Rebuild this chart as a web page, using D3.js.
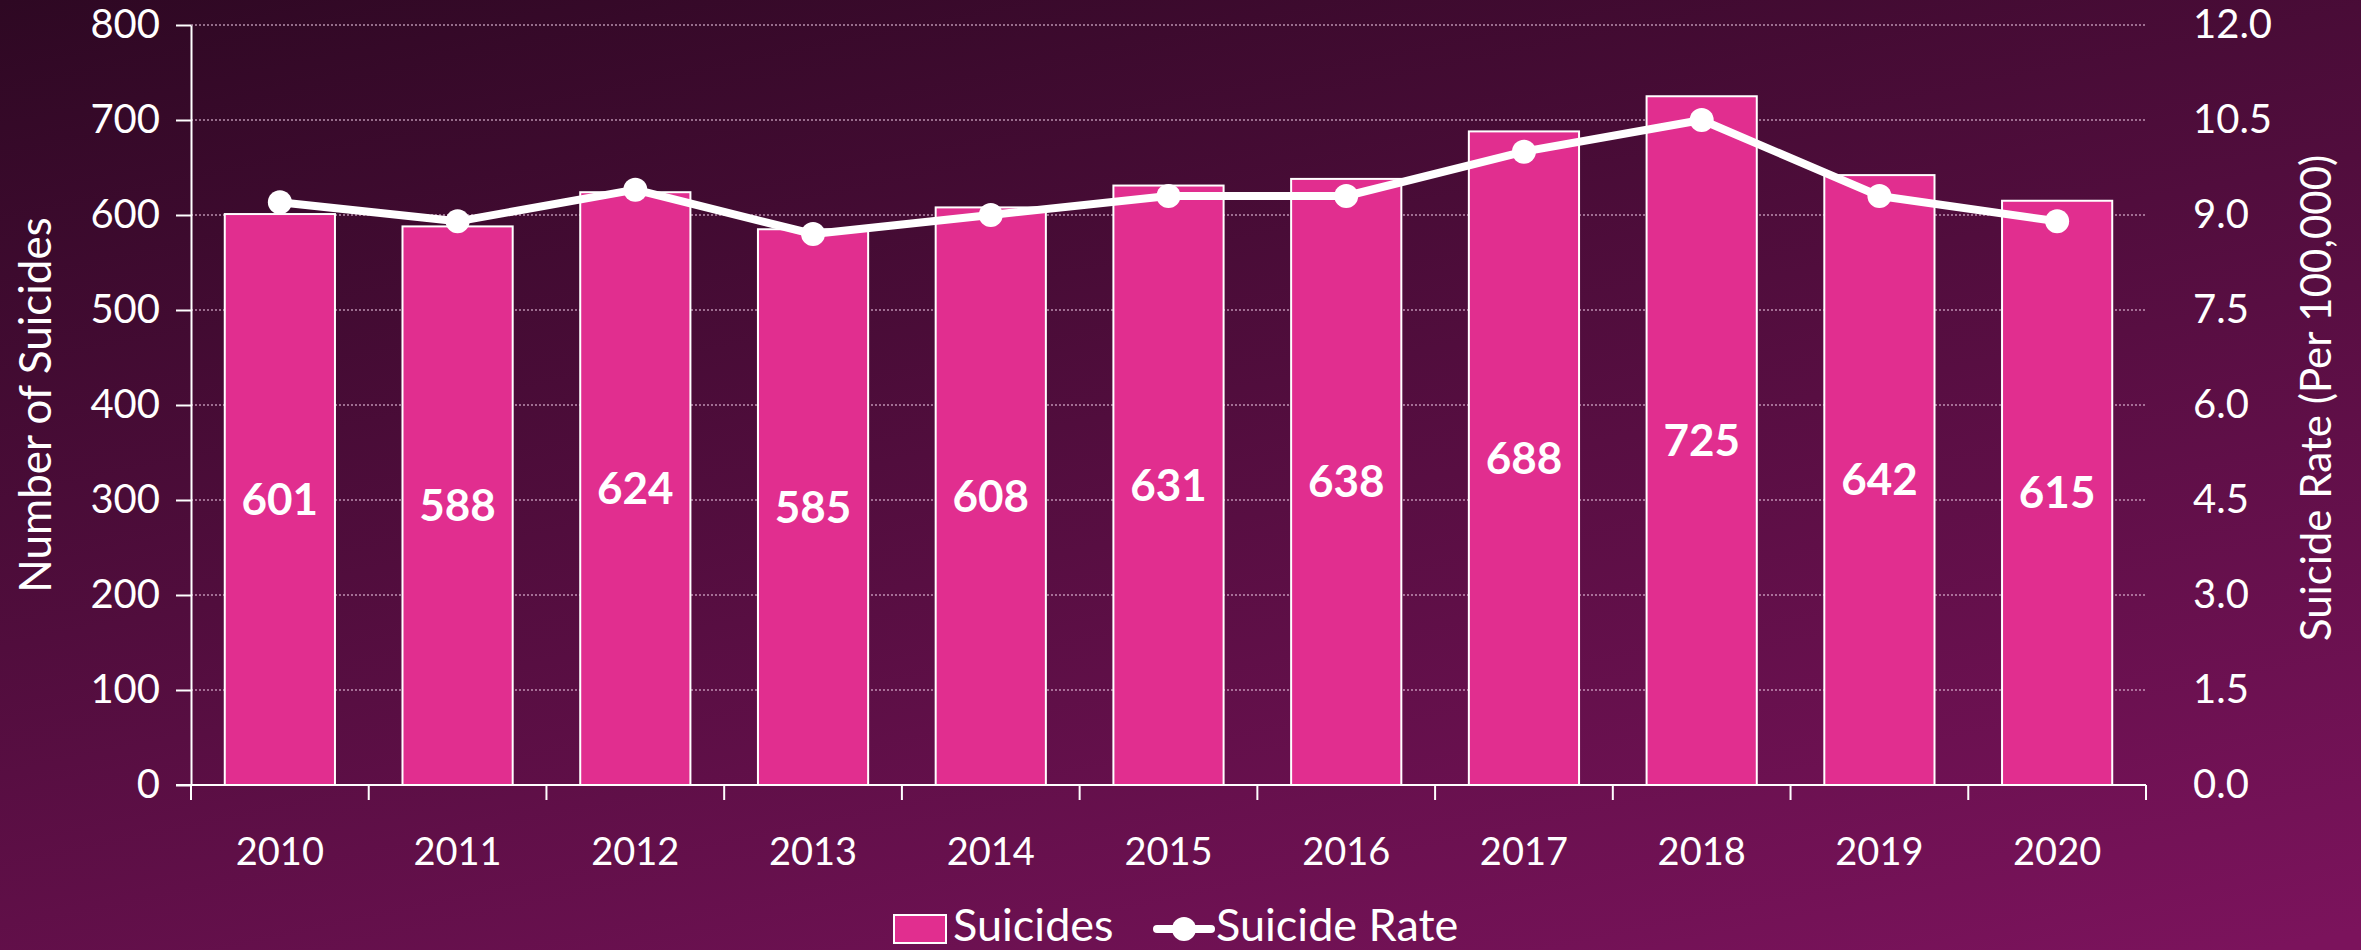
<!DOCTYPE html>
<html>
<head>
<meta charset="utf-8">
<script src="https://cdn.jsdelivr.net/npm/d3@7"></script>
<style>
  html, body { margin: 0; padding: 0; background: #300925; }
  svg { display: block; font-family: Lato, "Open Sans", sans-serif; }
</style>
</head>
<body>
<svg id="chart" width="2361" height="950"></svg>
<script>
// data
var years = ["2010", "2011", "2012", "2013", "2014", "2015", "2016", "2017", "2018", "2019", "2020"];
var suicides = [601, 588, 624, 585, 608, 631, 638, 688, 725, 642, 615];
var rates = [9.2, 8.9, 9.4, 8.7, 9.0, 9.3, 9.3, 10.0, 10.5, 9.3, 8.9];
var leftTicks = [0, 100, 200, 300, 400, 500, 600, 700, 800];
var rightTicks = [0, 1.5, 3, 4.5, 6, 7.5, 9, 10.5, 12];

var width = 2361;
var height = 950;
var margin = {top: 25, right: 215, bottom: 165, left: 191};

var svg = d3.select("#chart");

// background
var defs = svg.append("defs");
var grad = defs.append("linearGradient")
    .attr("id", "bg")
    .attr("gradientUnits", "userSpaceOnUse")
    .attr("x1", 0).attr("y1", 0)
    .attr("x2", 285).attr("y2", 1364);
grad.append("stop").attr("offset", "0%").attr("stop-color", "#2e0823");
grad.append("stop").attr("offset", "100%").attr("stop-color", "#7b135c");
svg.append("rect").attr("width", width).attr("height", height).attr("fill", "url(#bg)");

var x = d3.scaleBand()
    .domain(years)
    .range([margin.left, width - margin.right])
    .paddingInner(0.38)
    .paddingOuter(0.19);

var y = d3.scaleLinear().domain([0, 800]).range([height - margin.bottom, margin.top]);
var y2 = d3.scaleLinear().domain([0, 12]).range([height - margin.bottom, margin.top]);

// gridlines
svg.append("g")
    .selectAll("line")
    .data(leftTicks.slice(1))
    .enter()
    .append("line")
    .attr("x1", margin.left)
    .attr("x2", width - margin.right)
    .attr("y1", function(d) { return y(d); })
    .attr("y2", function(d) { return y(d); })
    .style("stroke", "rgba(235,200,225,0.7)")
    .style("stroke-width", 1.5)
    .style("stroke-dasharray", "2,2");

// bars
svg.append("g")
    .selectAll("rect")
    .data(suicides)
    .enter()
    .append("rect")
    .attr("x", function(d, i) { return x(years[i]); })
    .attr("y", function(d) { return y(d); })
    .attr("width", x.bandwidth())
    .attr("height", function(d) { return y(0) - y(d); })
    .style("fill", "#e12e8f")
    .style("stroke", "white")
    .style("stroke-width", 2);

// bar labels
svg.append("g")
    .selectAll("text")
    .data(suicides)
    .enter()
    .append("text")
    .attr("x", function(d, i) { return x(years[i]) + x.bandwidth() / 2; })
    .attr("y", function(d) { return y(d / 2); })
    .attr("dy", "0.35em")
    .attr("text-anchor", "middle")
    .style("fill", "white")
    .style("font-size", "44px")
    .style("font-weight", 700)
    .text(function(d) { return d; });

// left axis
var leftAxis = svg.append("g")
    .attr("transform", "translate(" + margin.left + ",0)")
    .call(d3.axisLeft(y).tickValues(leftTicks).tickSize(15).tickPadding(16).tickSizeOuter(0));

// bottom axis, ticks at band edges
var edges = years.map(function(d) { return x(d) - x.step() * x.paddingInner() / 2; });
edges.push(width - margin.right);
var bottom = svg.append("g").attr("transform", "translate(0," + y(0) + ")");
bottom.append("line")
    .attr("x1", margin.left - 15).attr("x2", width - margin.right)
    .style("stroke", "white").style("stroke-width", 2);
bottom.selectAll("line.tick")
    .data(edges)
    .enter()
    .append("line")
    .attr("class", "tick")
    .attr("x1", function(d) { return d; })
    .attr("x2", function(d) { return d; })
    .attr("y1", 0).attr("y2", 15)
    .style("stroke", "white").style("stroke-width", 2);
bottom.selectAll("text")
    .data(years)
    .enter()
    .append("text")
    .attr("x", function(d) { return x(d) + x.bandwidth() / 2; })
    .attr("y", 67)
    .attr("dy", "0.35em")
    .attr("text-anchor", "middle")
    .style("fill", "white")
    .style("font-size", "38px")
    .text(function(d) { return d; });

// right axis
var rightAxis = svg.append("g")
    .attr("transform", "translate(" + (width - margin.right) + ",0)")
    .call(d3.axisRight(y2).tickValues(rightTicks).tickSize(0).tickPadding(47).tickFormat(d3.format(".1f")));
rightAxis.select(".domain").remove();

[leftAxis, rightAxis].forEach(function(g) {
    g.selectAll("text").style("fill", "white").style("font-size", "40px").style("font-family", "Lato, sans-serif");
    g.selectAll("line").style("stroke", "white").style("stroke-width", 2);
    g.select(".domain").style("stroke", "white").style("stroke-width", 2);
});

// rate line
var line = d3.line()
    .x(function(d, i) { return x(years[i]) + x.bandwidth() / 2; })
    .y(function(d) { return y2(d); });

svg.append("path")
    .datum(rates)
    .attr("d", line)
    .style("fill", "none")
    .style("stroke", "white")
    .style("stroke-width", 8)
    .style("stroke-linejoin", "round");

svg.append("g")
    .selectAll("circle")
    .data(rates)
    .enter()
    .append("circle")
    .attr("r", 12)
    .attr("cx", function(d, i) { return x(years[i]) + x.bandwidth() / 2; })
    .attr("cy", function(d) { return y2(d); })
    .style("fill", "white");

// axis titles
svg.append("text")
    .attr("transform", "translate(36," + y(400) + ") rotate(-90)")
    .attr("dy", "0.35em")
    .attr("text-anchor", "middle")
    .style("fill", "white")
    .style("font-size", "44px")
    .text("Number of Suicides");

svg.append("text")
    .attr("transform", "translate(2316," + (y(400) - 7) + ") rotate(-90)")
    .attr("dy", "0.35em")
    .attr("text-anchor", "middle")
    .style("fill", "white")
    .style("font-size", "42px")
    .text("Suicide Rate (Per 100,000)");

// legend
var legend = svg.append("g").attr("transform", "translate(0,929)");
legend.append("rect")
    .attr("x", 894).attr("y", -14)
    .attr("width", 52).attr("height", 28)
    .style("fill", "#e12e8f")
    .style("stroke", "white")
    .style("stroke-width", 2);
legend.append("text")
    .attr("x", 953).attr("y", 12)
    .style("fill", "white").style("font-size", "45px")
    .text("Suicides");
legend.append("line")
    .attr("x1", 1157).attr("x2", 1211)
    .style("stroke", "white").style("stroke-width", 8).style("stroke-linecap", "round");
legend.append("circle")
    .attr("cx", 1184).attr("r", 12)
    .style("fill", "white");
legend.append("text")
    .attr("x", 1216).attr("y", 12)
    .style("fill", "white").style("font-size", "45px")
    .text("Suicide Rate");
</script>
</body>
</html>
